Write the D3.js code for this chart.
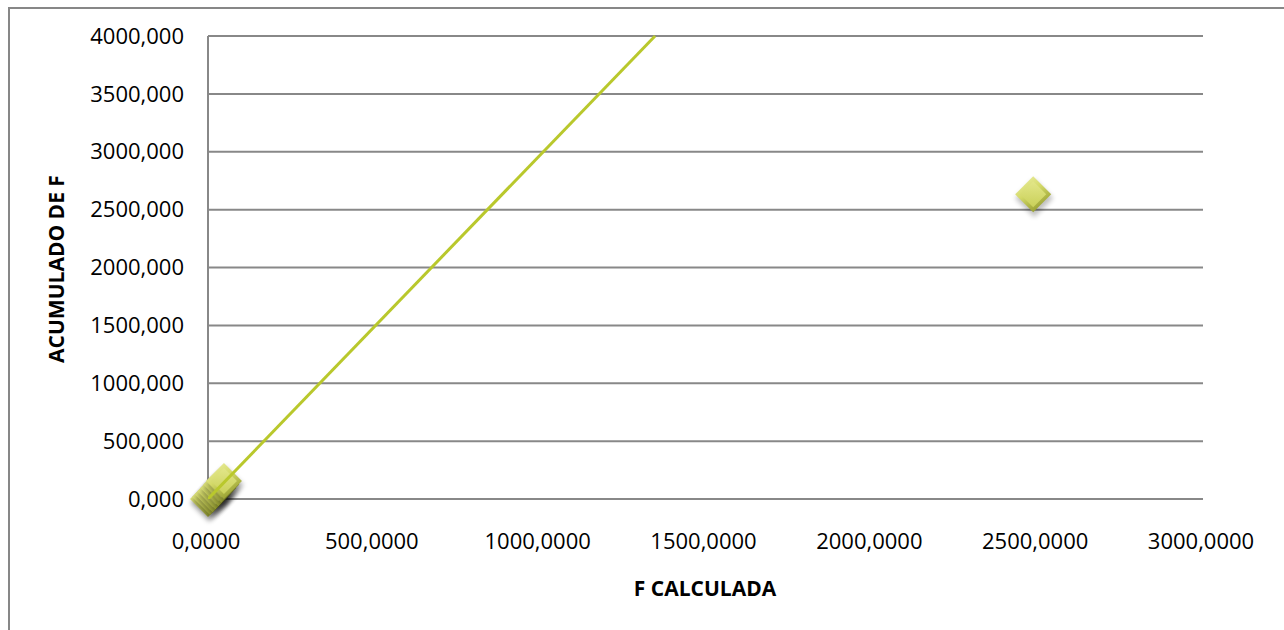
<!DOCTYPE html>
<html>
<head>
<meta charset="utf-8">
<script src="https://cdn.jsdelivr.net/npm/d3@7"></script>
<style>
  html, body { margin: 0; padding: 0; background: #fff; }
  svg { display: block; }
  text { font-family: "Open Sans", "Liberation Sans", sans-serif; fill: #000; }
</style>
</head>
<body>
<script>
// Observed points: F calculada vs. acumulado de F
const fCalculada = [0, 6, 14, 22, 31, 40, 48, 2488];
const acumuladoF = [0, 18, 42, 68, 95, 125, 155, 2632];

// Linear trend line (two ends of the fitted line)
const trendX = [0, 1348];
const trendY = [0, 4000];

const xTicks = [0, 500, 1000, 1500, 2000, 2500, 3000];
const yTicks = [0, 500, 1000, 1500, 2000, 2500, 3000, 3500, 4000];
const xTickLabels = ["0,0000", "500,0000", "1000,0000", "1500,0000", "2000,0000", "2500,0000", "3000,0000"];
const yTickLabels = ["0,000", "500,000", "1000,000", "1500,000", "2000,000", "2500,000", "3000,000", "3500,000", "4000,000"];

const W = 1284, H = 630;
const plot = { left: 208, right: 1203, top: 36, bottom: 499 };

const x = d3.scaleLinear().domain([0, 3000]).range([plot.left, plot.right]);
const y = d3.scaleLinear().domain([0, 4000]).range([plot.bottom, plot.top]);

const svg = d3.select("body").append("svg").attr("width", W).attr("height", H);
svg.append("rect").attr("width", W).attr("height", H).attr("fill", "#fff");

const defs = svg.append("defs");
const outerGrad = defs.append("linearGradient").attr("id", "gOuter")
  .attr("x1", 0).attr("y1", 0).attr("x2", 0.6).attr("y2", 1);
outerGrad.append("stop").attr("offset", "0%").attr("stop-color", "#f1f3ad");
outerGrad.append("stop").attr("offset", "50%").attr("stop-color", "#d3d968");
outerGrad.append("stop").attr("offset", "100%").attr("stop-color", "#959d2e");
const innerGrad = defs.append("linearGradient").attr("id", "gInner")
  .attr("x1", 0).attr("y1", 0).attr("x2", 0).attr("y2", 1);
innerGrad.append("stop").attr("offset", "0%").attr("stop-color", "#e2e688");
innerGrad.append("stop").attr("offset", "100%").attr("stop-color", "#c9d059");
defs.append("filter").attr("id", "soft").attr("x", "-50%").attr("y", "-50%")
  .attr("width", "200%").attr("height", "200%")
  .append("feGaussianBlur").attr("stdDeviation", 2.5);
defs.append("clipPath").attr("id", "plotClip").append("rect")
  .attr("x", plot.left).attr("y", plot.top - 2)
  .attr("width", plot.right - plot.left).attr("height", plot.bottom - plot.top + 2);

// Outer chart frame (top and left edges visible)
svg.append("path").attr("d", `M9,${H} L9,8 L${W},8`)
  .attr("fill", "none").attr("stroke", "#878787").attr("stroke-width", 2);

// Horizontal gridlines
svg.append("g").selectAll("line").data(yTicks).join("line")
  .attr("x1", plot.left).attr("x2", plot.right)
  .attr("y1", d => y(d)).attr("y2", d => y(d))
  .attr("stroke", "#888").attr("stroke-width", 2);

// Vertical axis line
svg.append("line").attr("x1", plot.left).attr("x2", plot.left)
  .attr("y1", plot.top).attr("y2", plot.bottom)
  .attr("stroke", "#888").attr("stroke-width", 2);

// Y tick labels
svg.append("g").selectAll("text").data(yTicks).join("text")
  .attr("x", 184).attr("y", d => y(d)).attr("dy", "0.35em")
  .attr("text-anchor", "end").attr("font-size", 22)
  .text((d, i) => yTickLabels[i]);

// X tick labels
svg.append("g").selectAll("text").data(xTicks).join("text")
  .attr("x", d => x(d) - 2).attr("y", 541).attr("dy", "0.35em")
  .attr("text-anchor", "middle").attr("font-size", 22)
  .text((d, i) => xTickLabels[i]);

// Axis titles
svg.append("text").attr("x", 705).attr("y", 589).attr("dy", "0.35em")
  .attr("text-anchor", "middle").attr("font-size", 21).attr("font-weight", "bold")
  .text("F CALCULADA");
svg.append("text").attr("transform", "translate(57,269) rotate(-90)").attr("dy", "0.35em")
  .attr("text-anchor", "middle").attr("font-size", 21).attr("font-weight", "bold")
  .text("ACUMULADO DE F");

// Diamond markers with bevel shading
const R = 18;
const diamond = r => `M0,${-r} L${r},0 L0,${r} L${-r},0 Z`;
const pts = fCalculada.map((v, i) => ({ fx: v, fy: acumuladoF[i] }));
const marks = svg.append("g").selectAll("g").data(pts).join("g")
  .attr("transform", d => `translate(${x(d.fx)},${y(d.fy)})`);
marks.append("path").attr("d", diamond(R + 1)).attr("transform", "translate(1,4)")
  .attr("fill", "#000").attr("opacity", 0.25).attr("filter", "url(#soft)");
marks.append("path").attr("d", diamond(R)).attr("fill", "url(#gOuter)");
marks.append("path").attr("d", diamond(R - 5)).attr("fill", "url(#gInner)");

// Trend line
svg.append("line").attr("clip-path", "url(#plotClip)")
  .attr("x1", x(trendX[0])).attr("y1", y(trendY[0]))
  .attr("x2", x(trendX[1])).attr("y2", y(trendY[1]))
  .attr("stroke", "#b9c82c").attr("stroke-width", 3);
</script>
</body>
</html>
